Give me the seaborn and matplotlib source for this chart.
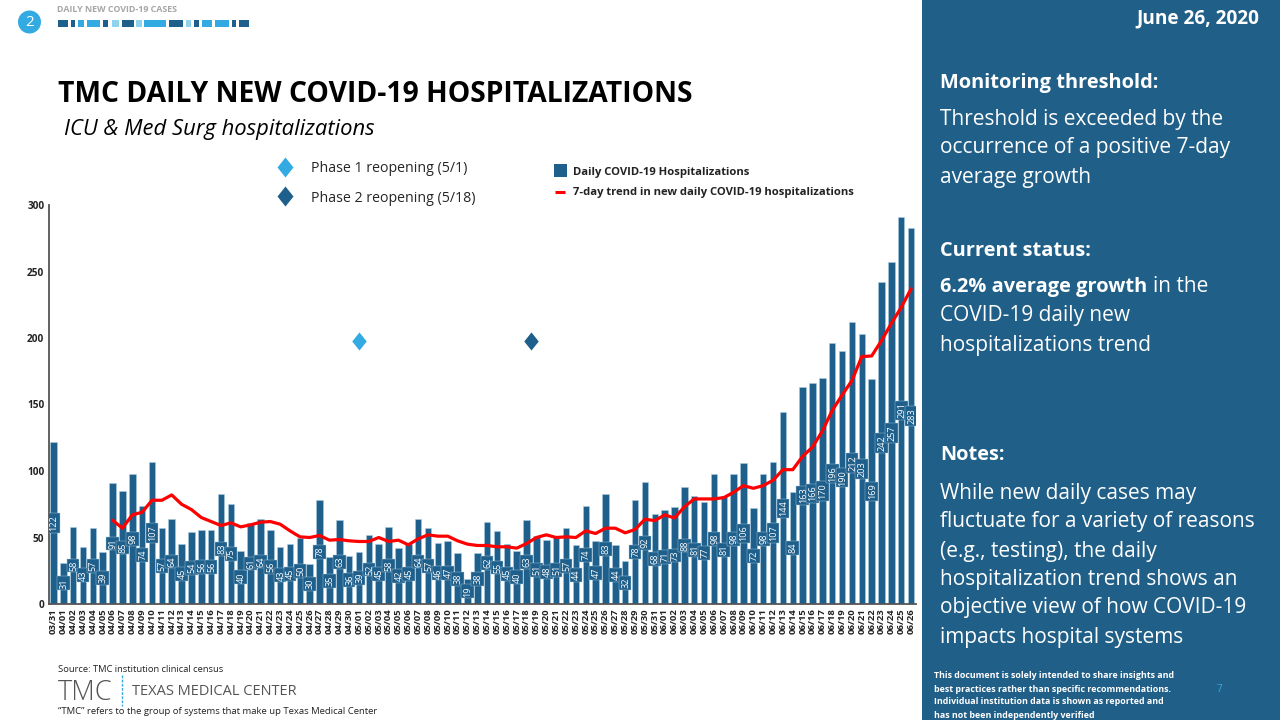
import matplotlib
matplotlib.use("Agg")
import matplotlib.pyplot as plt
import seaborn as sns
import pandas as pd
from matplotlib.patches import Rectangle, Circle
from matplotlib.path import Path

dates = (["03/31"] + [f"04/{d:02d}" for d in range(1, 31)]
         + [f"05/{d:02d}" for d in range(1, 32)] + [f"06/{d:02d}" for d in range(1, 27)])
daily = [122, 31, 58, 43, 57, 39, 91, 85, 98, 74, 107, 57, 64, 45, 54, 56, 56, 83, 75, 40, 61, 64, 56, 43, 45, 50,
         30, 78, 35, 63, 36, 39, 52, 45, 58, 42, 45, 64, 57, 46, 47, 38, 19, 38, 62, 55, 45, 40, 63, 51, 48, 51, 57,
         44, 74, 47, 83, 44, 32, 78, 92, 68, 71, 73, 88, 81, 77, 98, 81, 98, 106, 72, 98, 107, 144, 84, 163, 166,
         170, 196, 190, 212, 203, 169, 242, 257, 291, 283]
trend_dates = dates[6:]
trend = [63, 57, 67, 69, 78, 78, 82, 75, 71, 65, 62, 59, 61, 58, 59.5, 61.5, 62, 60, 55, 50.5, 50, 51.5, 48, 48.5,
         47.5, 47, 47, 50, 47, 48, 44.5, 49, 52, 51, 51, 47.5, 45, 44, 44, 43, 43, 42, 45.5, 50, 52, 50, 50.5, 50,
         55, 53, 57, 57, 53.5, 56, 63.7, 62.7, 67, 64.7, 73, 79, 79, 79, 80, 84, 89, 87, 89, 93, 101, 101, 111, 118,
         130, 145.5, 157, 168, 186, 186.5, 198, 211, 223, 237]
phase_dates = ["05/01", "05/18"]
phase_level = [198, 198]
phase_names = ["Phase 1 reopening (5/1)", "Phase 2 reopening (5/18)"]
yticks = [0, 50, 100, 150, 200, 250, 300]

NAVY = "#1F5F8B"
PANEL = "#205F88"
BRIGHT = "#33ABE2"
LIGHT = "#8FD3EE"
EDGE = "#A9CBE0"
FONT = "Open Sans"
HEAD = 14.4
BODY = 15.0
DIAMOND = Path([(0, 1), (0.8, 0), (0, -1), (-0.8, 0), (0, 1)], closed=True)

sns.set_theme(style="white")
plt.rcParams["font.family"] = [FONT, "DejaVu Sans"]

fig = plt.figure(figsize=(12.8, 7.2), dpi=100, facecolor="white")
W, H = 1280, 720
ax = fig.add_axes([48.5 / W, (H - 604) / H, (916 - 48.5) / W, 399 / H])

df = pd.DataFrame({"date": dates, "daily": daily})
sns.barplot(data=df, x="date", y="daily", order=dates, color=NAVY, saturation=1, width=0.66,
            edgecolor=EDGE, linewidth=0.4, ax=ax)
tdf = pd.DataFrame({"date": trend_dates, "trend": trend})
tdf["pos"] = [dates.index(d) for d in trend_dates]
sns.lineplot(data=tdf, x="pos", y="trend", color="#FF0000", linewidth=2.3, ax=ax, zorder=6)

# value labels: a box centred in the bar, sized by the number of digits
for i, v in enumerate(daily):
    bw = 1.28
    bh = 14.6 if v >= 100 else 10.4
    z = 3 + i * 0.001
    ax.add_patch(Rectangle((i - bw / 2, v / 2 - bh / 2), bw, bh, fc=NAVY, ec=EDGE, lw=0.3, zorder=z))
    ax.text(i + 0.06, v / 2, str(v), rotation=90, ha="center", va="center", color="white", fontsize=6.6,
            zorder=z + 0.0005)

pcolors = [BRIGHT, NAVY]
for d, lv, c in zip(phase_dates, phase_level, pcolors):
    ax.scatter([dates.index(d) + (0.4 if c == NAVY else 0)], [lv], marker=DIAMOND, s=170, color=c,
               linewidths=0, zorder=7)

ax.set_xlim(-0.5, 87.5)
ax.set_ylim(0, 300)
ax.set_yticks(yticks)
ax.set_xticks(range(len(dates)))
ax.set_xticklabels(dates, rotation=90, fontsize=6.8, fontweight="bold", color="#222222")
ax.set_yticklabels([str(t) for t in yticks], fontsize=7.2, fontweight="bold", color="#222222")
ax.set_xlabel("")
ax.set_ylabel("")
ax.tick_params(axis="both", length=0, pad=3)
ax.patch.set_alpha(0)
for s in ["top", "right"]:
    ax.spines[s].set_visible(False)
for s in ["left", "bottom"]:
    ax.spines[s].set_color("#555555")
    ax.spines[s].set_linewidth(1.3)

# page furniture in pixel coordinates
o = fig.add_axes([0, 0, 1, 1], zorder=-1)
o.set_xlim(0, W)
o.set_ylim(H, 0)
o.axis("off")
o.add_patch(Rectangle((922, 0), 358, 720, fc=PANEL, ec="none"))
o.add_patch(Circle((29.5, 22), 11.5, fc=BRIGHT, ec="none"))
o.text(29.5, 22.5, "2", color="white", fontsize=11, ha="center", va="center")
o.text(57, 10, "DAILY NEW COVID-19 CASES", color="#A6A6A6", fontsize=6.4, fontweight="bold", va="center")
blocks = [(58, 68, NAVY), (71, 75, NAVY), (78, 84, BRIGHT), (87, 100, BRIGHT), (103, 108, NAVY), (112, 119, LIGHT),
          (122, 134, NAVY), (136, 142, LIGHT), (144, 166, BRIGHT), (169, 183, NAVY), (186, 191, LIGHT),
          (194, 199, NAVY), (202, 212, BRIGHT), (215, 229, BRIGHT), (232, 236, NAVY), (239, 249, NAVY)]
for a, b, c in blocks:
    o.add_patch(Rectangle((a, 19.5), b - a, 7, fc=c, ec="none"))

o.text(58, 94, "TMC DAILY NEW COVID-19 HOSPITALIZATIONS", fontsize=20.3, fontweight="bold", color="black", va="center")
o.text(64, 129.5, "ICU & Med Surg hospitalizations", fontsize=15.8, style="italic", color="black", va="center")

for (y, ty, c, name) in zip([167, 196], [169, 198], pcolors, phase_names):
    o.scatter([285], [y], marker=DIAMOND, s=207, color=c, linewidths=0)
    o.text(311, ty, name, fontsize=10.2, color="#262626", va="center")
o.add_patch(Rectangle((554, 164), 13, 13, fc=NAVY, ec="none"))
o.text(573, 172, "Daily COVID-19 Hospitalizations", fontsize=8.1, fontweight="bold", color="#222222", va="center")
o.plot([555, 565], [191.5, 191.5], color="#FF0000", lw=2.2, solid_capstyle="butt")
o.text(573, 192.5, "7-day trend in new daily COVID-19 hospitalizations", fontsize=8.1, fontweight="bold",
       color="#222222", va="center")

o.text(58, 669.5, "Source: TMC institution clinical census", fontsize=6.75, color="#222222", va="center")
o.text(58, 692.5, "TMC", fontsize=19.5, color="#555555", va="center", fontweight="light")
o.plot([121.5, 121.5], [675, 706], color=BRIGHT, lw=1, ls=(0, (2, 1)))
o.text(132, 691.5, "TEXAS MEDICAL CENTER", fontsize=10.5, color="#555555", va="center")
o.text(58, 711.5, "\u201cTMC\u201d refers to the group of systems that make up Texas Medical Center", fontsize=6.82,
       color="#222222", va="center")

o.text(1259, 18, "June 26, 2020", fontsize=13.7, fontweight="bold", color="white", ha="right", va="center")
o.text(940, 83, "Monitoring threshold:", fontsize=HEAD, fontweight="bold", color="white", va="center")
for y, t in zip([119, 148, 177], ["Threshold is exceeded by the", "occurrence of a positive 7-day", "average growth"]):
    o.text(940, y, t, fontsize=BODY, color="white", va="center")
o.text(940, 251, "Current status:", fontsize=HEAD, fontweight="bold", color="white", va="center")
o.text(940, 287, "6.2% average growth", fontsize=HEAD, fontweight="bold", color="white", va="center")
o.text(1153, 287, "in the", fontsize=BODY, color="white", va="center")
for y, t in zip([316, 345], ["COVID-19 daily new", "hospitalizations trend"]):
    o.text(940, y, t, fontsize=BODY, color="white", va="center")
o.text(940, 455, "Notes:", fontsize=HEAD, fontweight="bold", color="white", va="center")
notes = ["While new daily cases may", "fluctuate for a variety of reasons", "(e.g., testing), the daily",
         "hospitalization trend shows an", "objective view of how COVID-19", "impacts hospital systems"]
for y, t in zip([493, 522, 551, 579, 608, 637], notes):
    o.text(940, y, t, fontsize=BODY, color="white", va="center")
disc = ["This document is solely intended to share insights and", "best practices rather than specific recommendations.",
        "Individual institution data is shown as reported and", "has not been independently verified"]
for y, t in zip([675, 689, 702, 715], disc):
    o.text(934, y, t, fontsize=6.4, fontweight="bold", color="white", va="center")
o.text(1219, 690, "7", fontsize=7, color=BRIGHT, ha="center", va="center")

fig.savefig("out.png", dpi=100)
